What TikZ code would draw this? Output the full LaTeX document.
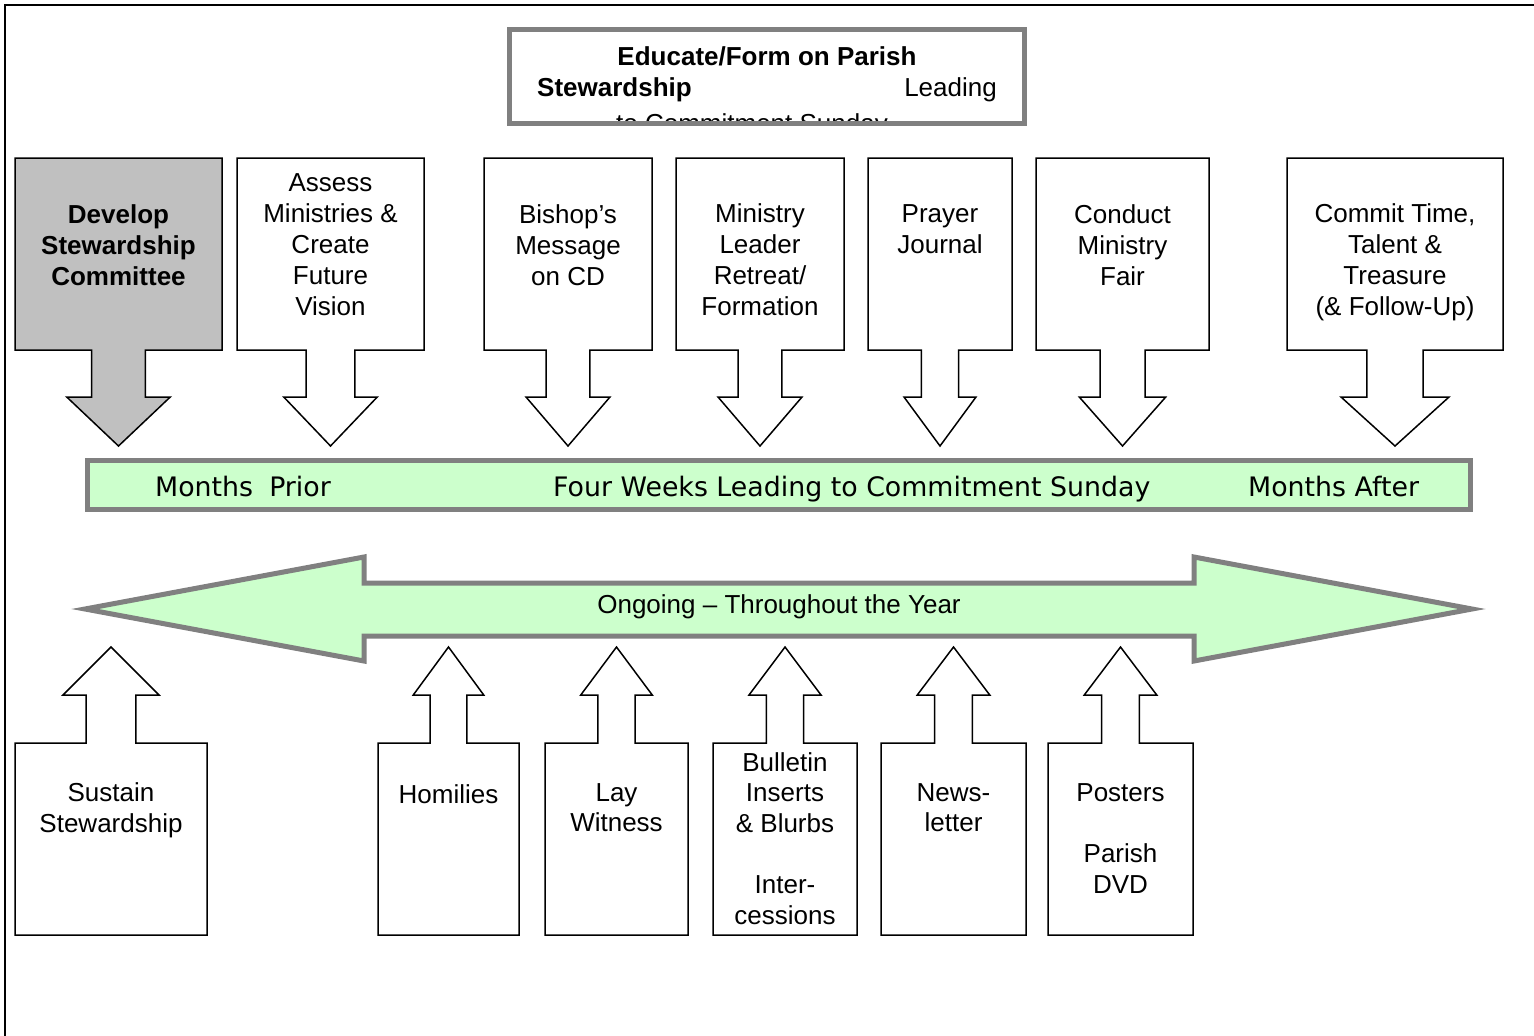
\documentclass[tikz,border=0pt]{standalone}
\usepackage{fontspec}
\setmainfont{Liberation Sans}
\newfontfamily\verd{DejaVu Sans}
\definecolor{bordergrey}{HTML}{808080}
\definecolor{lightgreen}{HTML}{CCFFCC}
\definecolor{boxgrey}{HTML}{C0C0C0}
\newcommand\dnbox[3]{%
  \pgfmathsetmacro\cx{(#1+#2)/2}%
  \pgfmathsetmacro\sw{0.13*(#2-#1)}%
  \pgfmathsetmacro\hw{0.25*(#2-#1)}%
  \draw[#3] (#1,158) -- (#2,158) -- (#2,350) -- (\cx+\sw,350) -- (\cx+\sw,397)
    -- (\cx+\hw,397) -- (\cx,446) -- (\cx-\hw,397) -- (\cx-\sw,397) -- (\cx-\sw,350)
    -- (#1,350) -- cycle;}
\newcommand\upbox[3]{%
  \pgfmathsetmacro\cx{(#1+#2)/2}%
  \pgfmathsetmacro\sw{0.13*(#2-#1)}%
  \pgfmathsetmacro\hw{0.25*(#2-#1)}%
  \draw[#3] (#1,935) -- (#2,935) -- (#2,743) -- (\cx+\sw,743) -- (\cx+\sw,695)
    -- (\cx+\hw,695) -- (\cx,647) -- (\cx-\hw,695) -- (\cx-\sw,695) -- (\cx-\sw,743)
    -- (#1,743) -- cycle;}
\tikzset{
  arrowbox/.style={draw=black, line width=1.5pt, fill=white, line join=miter},
  greybox/.style={arrowbox, fill=boxgrey},
  lbl/.style={inner sep=0pt, align=center, font=\fontsize{26}{31}\selectfont,
    execute at begin node=\strut, execute at end node=\strut},
  bandtext/.style={inner sep=0pt, anchor=base west, font=\verd\fontsize{26.8}{31}\selectfont},
  greenshape/.style={draw=bordergrey, line width=5pt, fill=lightgreen, line join=miter},
}
\begin{document}
\begin{tikzpicture}[x=1pt, y=-1pt]
\useasboundingbox (0,0) rectangle (1534,1036);
% frame
\draw[line width=2.5pt] (5,1036) -- (5,5) -- (1534,5);
% title box
\draw[draw=bordergrey, line width=5pt, fill=white] (509.5,29.5) rectangle (1024.5,123);
\begin{scope}
  \clip (512,32) rectangle (1022,120.5);
  \node[inner sep=0pt, anchor=base, font=\bfseries\fontsize{26}{31}\selectfont] (title1) at (767,65.3) {Educate/Form on Parish};
  \node[inner sep=0pt, anchor=base west, font=\bfseries\fontsize{26}{31}\selectfont] (title2) at (537,96.3) {Stewardship};
  \node[inner sep=0pt, anchor=base east, font=\fontsize{26}{31}\selectfont] (title3) at (997,96.3) {Leading};
  \node[inner sep=0pt, anchor=base, font=\fontsize{26}{31}\selectfont] (title4) at (752,132) {to Commitment Sunday};
\end{scope}
% top boxes
\dnbox{15}{222}{greybox}
\dnbox{237}{424}{arrowbox}
\dnbox{484}{652}{arrowbox}
\dnbox{676}{844}{arrowbox}
\dnbox{868}{1012}{arrowbox}
\dnbox{1036}{1209}{arrowbox}
\dnbox{1287}{1503}{arrowbox}
\node[lbl, font=\bfseries\fontsize{26}{31}\selectfont] (develop) at (118.5,249.5) {Develop\\Stewardship\\Committee};
\node[lbl] (assess) at (330.5,249.5) {Assess\\Ministries \&\\Create\\Future\\Vision};
\node[lbl] (bishop) at (568,249.5) {Bishop’s\\Message\\on CD};
\node[lbl] (leader) at (760,264.5) {Ministry\\Leader\\Retreat/\\Formation};
\node[lbl] (prayer) at (940,234) {Prayer\\Journal};
\node[lbl] (fair) at (1122.5,249.5) {Conduct\\Ministry\\Fair};
\node[lbl] (commit) at (1395,264.5) {Commit Time,\\Talent \&\\Treasure\\(\& Follow-Up)};
% timeline band
\draw[greenshape] (87.5,460.5) rectangle (1470.5,509.5);
\node[bandtext] (prior) at (155,496.5) {Months\hspace{0.6em}Prior};
\node[bandtext] (fourweeks) at (553,496.5) {Four Weeks Leading to Commitment Sunday};
\node[bandtext] (after) at (1248,496.5) {Months After};
% ongoing double arrow
\draw[greenshape] (85,609) -- (364,557) -- (364,583) -- (1194,583) -- (1194,557)
  -- (1472,609) -- (1194,661) -- (1194,636) -- (364,636) -- (364,661) -- cycle;
\node[inner sep=0pt, font=\fontsize{26}{31}\selectfont] (ongoing) at (779,607) {Ongoing – Throughout the Year};
% bottom boxes
\upbox{15}{207}{arrowbox}
\upbox{378}{519}{arrowbox}
\upbox{545}{688}{arrowbox}
\upbox{713}{857}{arrowbox}
\upbox{881}{1026}{arrowbox}
\upbox{1048}{1193}{arrowbox}
\node[lbl, font=\fontsize{26}{30.6}\selectfont] (sustain) at (111,812) {Sustain\\Stewardship};
\node[lbl, font=\fontsize{26}{30.6}\selectfont] (homilies) at (448.5,797) {Homilies};
\node[lbl, font=\fontsize{26}{30.6}\selectfont] (lay) at (616.5,812) {Lay\\Witness};
\node[lbl, font=\fontsize{26}{30.6}\selectfont] (bulletin) at (785,843) {Bulletin\\Inserts\\\& Blurbs\\[30.6pt]Inter-\\cessions};
\node[lbl, font=\fontsize{26}{30.6}\selectfont] (news) at (953.5,812) {News-\\letter};
\node[lbl, font=\fontsize{26}{30.6}\selectfont] (posters) at (1120.5,843) {Posters\\[30.6pt]Parish\\DVD};
\end{tikzpicture}
\end{document}
